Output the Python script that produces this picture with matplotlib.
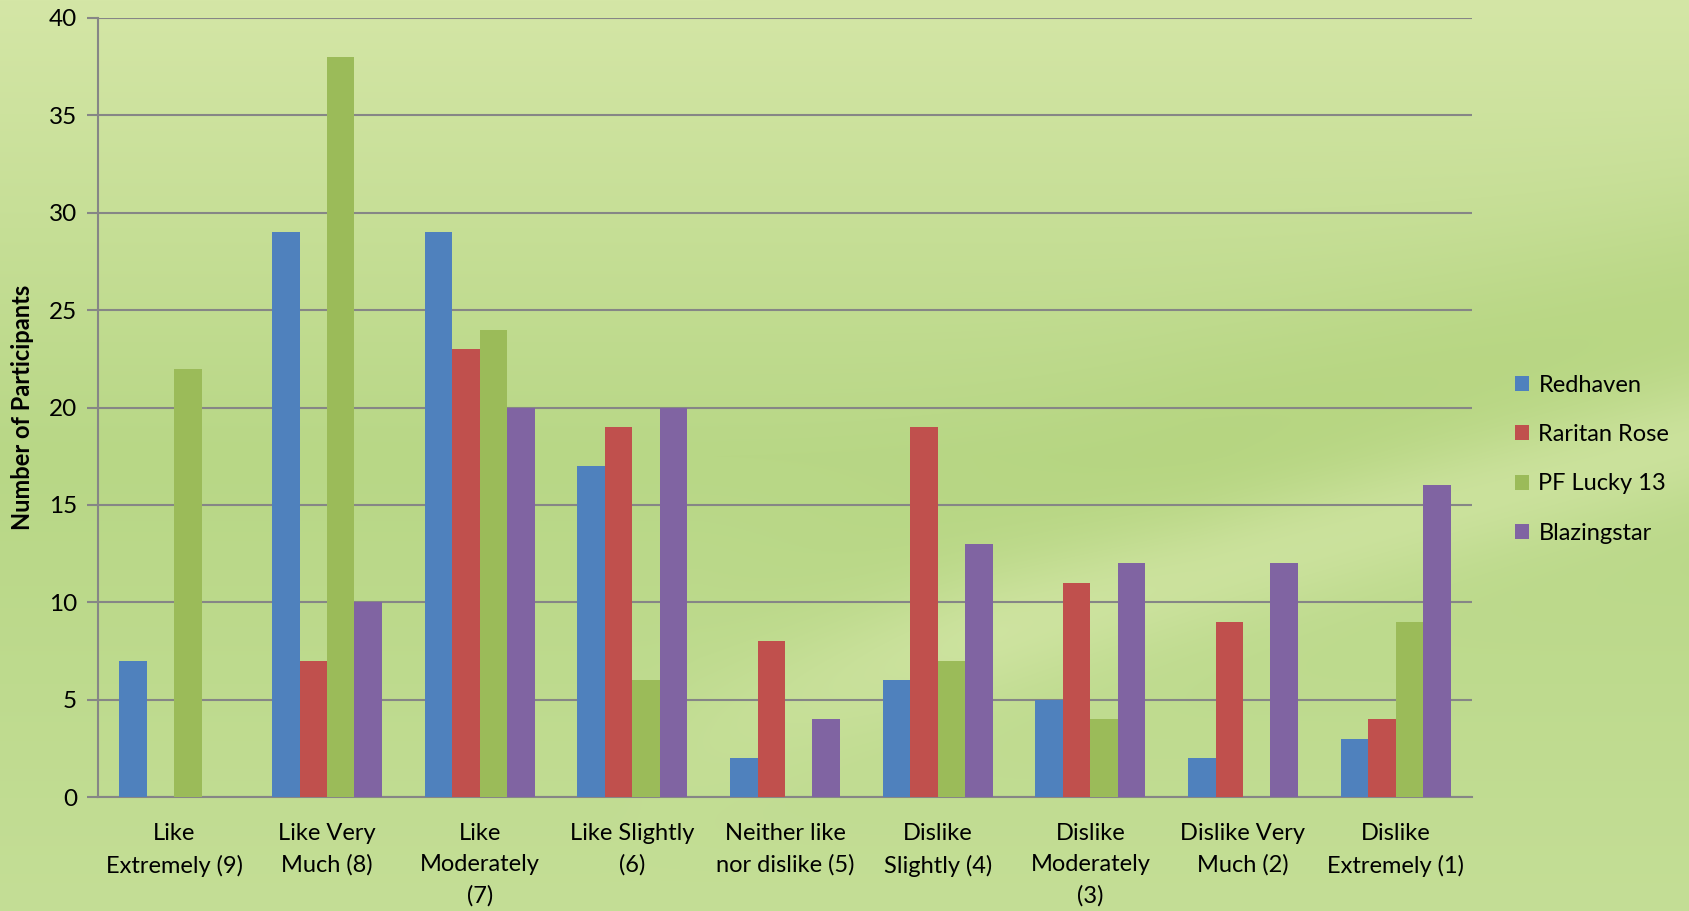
import numpy as np
import matplotlib
matplotlib.use("Agg")
import matplotlib.pyplot as plt
from matplotlib.patches import Patch

categories = ["Like\nExtremely (9)", "Like Very\nMuch (8)", "Like\nModerately\n(7)",
              "Like Slightly\n(6)", "Neither like\nnor dislike (5)", "Dislike\nSlightly (4)",
              "Dislike\nModerately\n(3)", "Dislike Very\nMuch (2)", "Dislike\nExtremely (1)"]
series_names = ["Redhaven", "Raritan Rose", "PF Lucky 13", "Blazingstar"]
redhaven = [7, 29, 29, 17, 2, 6, 5, 2, 3]
raritan_rose = [0, 7, 23, 19, 8, 19, 11, 9, 4]
pf_lucky_13 = [22, 38, 24, 6, 0, 7, 4, 0, 9]
blazingstar = [0, 10, 20, 20, 4, 13, 12, 12, 16]
y_ticks = [0, 5, 10, 15, 20, 25, 30, 35, 40]

colors = ["#4F81BD", "#C0504D", "#9BBB59", "#8064A2"]
plt.rcParams['font.family'] = ['Lato', 'DejaVu Sans']

W, H = 1690, 911
fig = plt.figure(figsize=(W / 100, H / 100), dpi=100)

# background gradient
bg_ax = fig.add_axes([0, 0, 1, 1], zorder=-10)
yy, xx = np.mgrid[0:H, 0:W].astype(float)
top = np.array([212, 230, 166]) / 255
mid = np.array([184, 215, 134]) / 255
bot = np.array([196, 222, 150]) / 255
t = yy / H
base = np.where(t[..., None] < 0.5,
                top + (mid - top) * (t[..., None] / 0.5),
                mid + (bot - mid) * ((t[..., None] - 0.5) / 0.5))
curve = 760 - 330 * ((xx - 650) / 1040).clip(0, 1) ** 0.8
d = (yy - curve)
band = np.exp(-(d / 70) ** 2) * ((xx - 600) / 400).clip(0, 1)
light = np.array([214, 232, 170]) / 255
img = base + (light - base) * (band[..., None] * 0.8)
dark = np.array([180, 212, 125]) / 255
above = np.exp(-((d + 110) / 110) ** 2) * ((xx - 700) / 500).clip(0, 1)
img = img + (dark - img) * (above[..., None] * 0.6)
bg_ax.imshow(img, aspect='auto', extent=[0, 1, 0, 1], origin='upper')
bg_ax.axis('off')

ax = fig.add_axes([98 / W, 1 - 797 / H, (1472 - 98) / W, (797 - 18) / H])
ax.set_facecolor('none')

x = np.arange(len(categories))
bw = 0.18
all_series = [redhaven, raritan_rose, pf_lucky_13, blazingstar]
for i, (vals, c) in enumerate(zip(all_series, colors)):
    ax.bar(x + (i - 1.5) * bw, vals, width=bw, color=c, zorder=3, linewidth=0)

ax.set_xlim(-0.5, len(categories) - 0.5)
ax.set_ylim(0, 40)
ax.set_yticks(y_ticks)
ax.set_xticks(x)
ax.set_xticklabels(categories, fontsize=17, linespacing=1.58)
ax.tick_params(axis='y', labelsize=17.5, length=8, width=1.5, color='#868686', pad=7)
ax.tick_params(axis='x', length=0, pad=19)
ax.yaxis.grid(True, color='#868686', linewidth=1.5, zorder=0)
for s in ['top', 'right']:
    ax.spines[s].set_visible(False)
for s in ['left', 'bottom']:
    ax.spines[s].set_color('#868686')
    ax.spines[s].set_linewidth(1.5)
ax.set_ylabel("Number of Participants", fontsize=17, fontweight='bold', labelpad=11)

handles = [Patch(facecolor=c, edgecolor='none') for c in colors]
fig.legend(handles, series_names, loc='upper left', bbox_to_anchor=(1503 / W, 1 - 363 / H),
           frameon=False, fontsize=17, handlelength=0.6, handleheight=0.6,
           handletextpad=0.4, labelspacing=1.2, borderpad=0)

fig.savefig("out.png", dpi=100)
